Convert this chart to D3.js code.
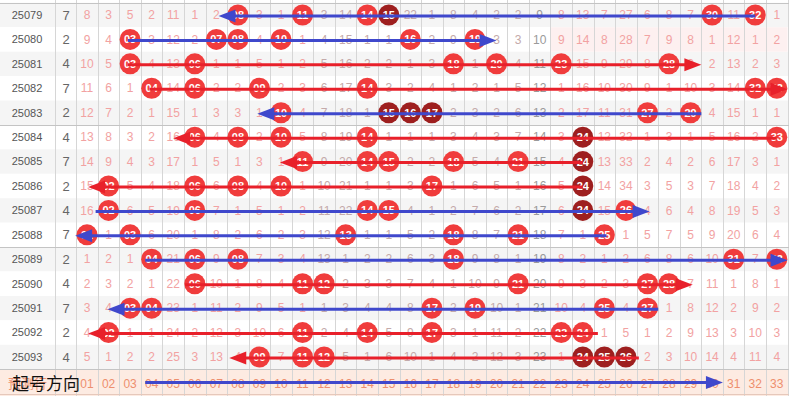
<!DOCTYPE html>
<html>
<head>
<meta charset="utf-8">
<script src="https://cdn.jsdelivr.net/npm/d3@7"></script>
<style>
  html, body { margin: 0; padding: 0; background: #fff; }
  svg { display: block; font-family: "Liberation Sans", Arial, sans-serif; }
</style>
</head>
<body>
<svg class="trend"></svg>
<script>
// issues shown in the table, top to bottom
const issues = ['25079', '25080', '25081', '25082', '25083', '25084', '25085', '25086',
    '25087', '25088', '25089', '25090', '25091', '25092', '25093']

// small number in the second column
const spans = [7, 2, 4, 7, 2, 4, 7, 2, 4, 7, 2, 4, 7, 2, 4]

// miss counts for red balls 01..33, 0 means the ball was drawn in that issue
const misses = [
    [8, 3, 5, 2, 11, 1, 2, 0, 3, 1, 0, 3, 14, 0, 0, 22, 1, 8, 4, 2, 2, 9, 8, 13, 7, 27, 6, 8, 7, 0, 11, 0, 1],
    [9, 4, 0, 3, 12, 2, 0, 0, 4, 0, 1, 4, 15, 1, 1, 0, 2, 9, 0, 3, 3, 10, 9, 14, 8, 28, 7, 9, 8, 1, 12, 1, 2],
    [10, 5, 0, 4, 13, 0, 1, 1, 5, 1, 2, 5, 16, 2, 2, 1, 3, 0, 1, 0, 4, 11, 0, 15, 9, 29, 8, 0, 9, 2, 13, 2, 3],
    [11, 6, 1, 0, 14, 0, 2, 2, 0, 2, 3, 6, 17, 0, 3, 2, 4, 1, 2, 1, 5, 12, 1, 16, 10, 30, 9, 1, 10, 3, 14, 0, 0],
    [12, 7, 2, 1, 15, 1, 3, 3, 1, 0, 4, 7, 18, 1, 0, 0, 0, 2, 3, 2, 6, 13, 2, 17, 11, 31, 0, 2, 0, 4, 15, 1, 1],
    [13, 8, 3, 2, 16, 0, 4, 0, 2, 0, 5, 8, 19, 0, 1, 1, 1, 3, 4, 3, 7, 14, 3, 0, 12, 32, 1, 3, 1, 5, 16, 2, 0],
    [14, 9, 4, 3, 17, 1, 5, 1, 3, 1, 0, 9, 20, 0, 0, 2, 2, 0, 5, 4, 0, 15, 4, 0, 13, 33, 2, 4, 2, 6, 17, 3, 1],
    [15, 0, 5, 4, 18, 0, 6, 0, 4, 0, 1, 10, 21, 1, 1, 3, 0, 1, 6, 5, 1, 16, 5, 0, 14, 34, 3, 5, 3, 7, 18, 4, 2],
    [16, 0, 6, 5, 19, 0, 7, 1, 5, 1, 2, 11, 22, 0, 0, 4, 1, 2, 7, 6, 2, 17, 6, 0, 15, 0, 4, 6, 4, 8, 19, 5, 3],
    [0, 1, 0, 6, 20, 1, 8, 2, 6, 2, 3, 12, 0, 1, 1, 5, 2, 0, 8, 7, 0, 18, 7, 1, 0, 1, 5, 7, 5, 9, 20, 6, 4],
    [1, 2, 1, 0, 21, 0, 9, 0, 7, 3, 4, 13, 1, 2, 2, 6, 3, 0, 9, 8, 1, 19, 8, 2, 1, 2, 6, 8, 6, 10, 0, 7, 0],
    [2, 3, 2, 1, 22, 0, 10, 1, 8, 4, 0, 0, 2, 3, 3, 7, 4, 1, 10, 9, 0, 20, 9, 3, 2, 3, 0, 0, 7, 11, 1, 8, 1],
    [3, 4, 0, 0, 23, 1, 11, 2, 9, 5, 1, 1, 3, 4, 4, 8, 0, 2, 0, 10, 1, 21, 10, 4, 0, 4, 0, 1, 8, 12, 2, 9, 2],
    [4, 0, 1, 1, 24, 2, 12, 3, 10, 6, 0, 2, 4, 0, 5, 9, 0, 3, 1, 11, 2, 22, 0, 0, 1, 5, 1, 2, 9, 13, 3, 10, 3],
    [5, 1, 2, 2, 25, 3, 13, 4, 0, 7, 0, 0, 5, 1, 6, 10, 1, 4, 2, 12, 3, 23, 1, 0, 0, 0, 2, 3, 10, 14, 4, 11, 4]
]

// drawn balls shown in dark red: [row index, ball]
const darkBalls = [[0, 15], [4, 15], [4, 16], [4, 17], [5, 24], [6, 24], [7, 24], [8, 24],
    [14, 24], [14, 25], [14, 26]]

// hand drawn arrows: row index (15 = footer), start column, arrow tip column, colour
const arrows = [
    { row: 0, from: 32, to: 7.1, color: 'blue' },
    { row: 1, from: 2.9, to: 20, color: 'blue' },
    { row: 2, from: 2.9, to: 29.5, color: 'red' },
    { row: 3, from: 3.9, to: 33.5, color: 'red' },
    { row: 4, from: 29.5, to: 8.9, color: 'blue' },
    { row: 5, from: 33, to: 5, color: 'red' },
    { row: 6, from: 24, to: 9.95, color: 'red' },
    { row: 7, from: 24, to: 1.05, color: 'red' },
    { row: 8, from: 1.4, to: 27.1, color: 'blue' },
    { row: 9, from: 25.1, to: 0.45, color: 'blue' },
    { row: 10, from: 3.7, to: 33.5, color: 'blue' },
    { row: 11, from: 5.55, to: 29.1, color: 'red' },
    { row: 12, from: 27.5, to: 1.95, color: 'blue' },
    { row: 13, from: 24.7, to: 1.05, color: 'red' },
    { row: 14, from: 26.6, to: 7.6, color: 'red' },
    { row: 15, from: 3.7, to: 30.5, color: 'blue' }
]

const balls = d3.range(1, 34)
const pad = n => String(n).padStart(2, '0')

const palette = {
    blue: '#3f48cc',
    red: '#e8202a',
    ball: '#f03c3c',
    darkBall: '#9e1f1f',
    miss: '#f2a2a2',
    missMid: '#c4aaaa',
    missCol: '#9a9a9a',
    grid: '#d6d6d6',
    foot: '#fdebe2',
    footText: '#ee8f6e'
}

const drawChart = () => {

    const width = 789
    const height = 398

    const svg = d3.select('.trend')
        .attr('width', width)
        .attr('height', height)

    // column centres for ball 01..33 and row centres
    const x = d3.scaleLinear().domain([1, 33]).range([87, 776.8])
    const y = d3.scaleLinear().domain([0, 14]).range([15, 357])
    const colW = x(2) - x(1)
    const rowH = y(1) - y(0)
    const gridLeft = x(1) - colW / 2
    const rowTop = i => y(i) - rowH / 2

    // row backgrounds
    svg.selectAll('.row-bg')
        .data(issues)
        .enter()
        .append('rect')
        .attr('x', 0)
        .attr('y', (d, i) => rowTop(i))
        .attr('width', width)
        .attr('height', rowH)
        .attr('fill', (d, i) => i % 2 === 0 ? '#f5f5f5' : '#fff')

    // pink band of the third zone on 25080
    svg.append('rect')
        .attr('x', x(23) - colW / 2)
        .attr('y', rowTop(1))
        .attr('width', x(33) - x(23) + colW)
        .attr('height', rowH)
        .attr('fill', '#fdf0f0')

    // footer row
    svg.append('rect')
        .attr('x', 0)
        .attr('y', rowTop(15))
        .attr('width', width)
        .attr('height', height - rowTop(15) - 2)
        .attr('fill', palette.foot)

    // vertical grid lines
    const vLines = [55, gridLeft].concat(balls.map(b => x(b) + colW / 2))
    svg.selectAll('.vline')
        .data(vLines)
        .enter()
        .append('line')
        .attr('x1', d => Math.round(d) + 0.5)
        .attr('x2', d => Math.round(d) + 0.5)
        .attr('y1', 0)
        .attr('y2', height - 2)
        .attr('stroke', palette.grid)

    // horizontal separators every five issues
    svg.selectAll('.hline')
        .data([0, 5, 10, 15, 16])
        .enter()
        .append('line')
        .attr('x1', 0)
        .attr('x2', width)
        .attr('y1', d => Math.round(rowTop(d)) + 0.5)
        .attr('y2', d => Math.round(rowTop(d)) + 0.5)
        .attr('stroke', d => d === 16 ? '#e6c8bb' : '#c4c4c4')

    const rows = svg.selectAll('.row')
        .data(issues)
        .enter()
        .append('g')
        .attr('transform', (d, i) => `translate(0,${y(i)})`)

    rows.append('text')
        .attr('x', 27)
        .attr('dy', '0.35em')
        .attr('text-anchor', 'middle')
        .attr('font-size', 11)
        .attr('fill', '#555')
        .text(d => d)

    rows.append('text')
        .attr('x', 66)
        .attr('dy', '0.35em')
        .attr('text-anchor', 'middle')
        .attr('font-size', 13)
        .attr('fill', '#666')
        .text((d, i) => spans[i])

    // miss counts
    rows.selectAll('.miss')
        .data((d, i) => misses[i].map((v, j) => ({ v, ball: j + 1 })).filter(c => c.v > 0))
        .enter()
        .append('text')
        .attr('x', c => x(c.ball))
        .attr('dy', '0.35em')
        .attr('text-anchor', 'middle')
        .attr('font-size', 12)
        .attr('fill', c => c.ball === 22 ? palette.missCol : (c.ball >= 12 && c.ball <= 21 ? palette.missMid : palette.miss))
        .text(c => c.v)

    // drawn balls
    const isDark = (i, b) => darkBalls.some(d => d[0] === i && d[1] === b)
    const drawn = rows.selectAll('.ball')
        .data((d, i) => misses[i].map((v, j) => ({ v, ball: j + 1, row: i })).filter(c => c.v === 0))
        .enter()
        .append('g')
        .attr('transform', c => `translate(${x(c.ball)},0)`)

    drawn.append('circle')
        .attr('r', 10.5)
        .attr('fill', c => isDark(c.row, c.ball) ? palette.darkBall : palette.ball)

    drawn.append('text')
        .attr('dy', '0.36em')
        .attr('text-anchor', 'middle')
        .attr('font-size', 11)
        .attr('font-weight', 'bold')
        .attr('fill', '#fff')
        .text(c => pad(c.ball))

    // footer labels
    const fy = y(15) + 2
    svg.append('text')
        .attr('x', 8)
        .attr('y', fy)
        .attr('dy', '0.35em')
        .attr('font-size', 13)
        .attr('font-family', '"Noto Sans CJK SC", sans-serif')
        .attr('fill', palette.footText)
        .text('预测行')

    svg.selectAll('.foot-num')
        .data(balls)
        .enter()
        .append('text')
        .attr('x', d => x(d))
        .attr('y', fy)
        .attr('dy', '0.35em')
        .attr('text-anchor', 'middle')
        .attr('font-size', 12)
        .attr('fill', palette.footText)
        .text(d => pad(d))

    // arrows
    const arrowG = svg.selectAll('.arrow')
        .data(arrows)
        .enter()
        .append('g')

    arrowG.append('line')
        .attr('x1', d => x(d.from))
        .attr('x2', d => x(d.to) + (d.to > d.from ? -12 : 12))
        .attr('y1', d => y(d.row) + 1)
        .attr('y2', d => y(d.row) + 1)
        .attr('stroke', d => palette[d.color])
        .attr('stroke-width', 3)

    arrowG.append('path')
        .attr('d', d => {
            const tx = x(d.to)
            const ty = y(d.row) + 1
            const dir = d.to > d.from ? -1 : 1
            return `M${tx},${ty} L${tx + dir * 17},${ty - 6.5} L${tx + dir * 17},${ty + 6.5} Z`
        })
        .attr('fill', d => palette[d.color])

    // big caption over the footer
    svg.append('text')
        .attr('x', 12)
        .attr('y', fy)
        .attr('dy', '0.36em')
        .attr('font-size', 17)
        .attr('font-family', '"Noto Sans CJK SC", sans-serif')
        .attr('fill', '#111')
        .text('起号方向')
}

drawChart()
</script>
</body>
</html>
